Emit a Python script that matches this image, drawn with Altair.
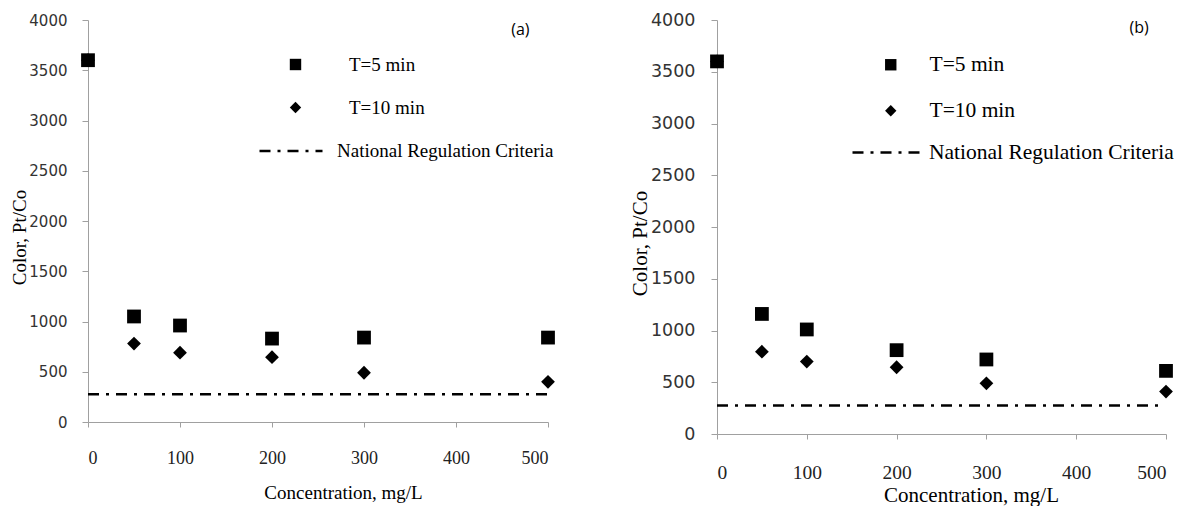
import altair as alt
import pandas as pd

# ---- data ----
conc = [0, 50, 100, 200, 300, 500]
a_t5 = [3600, 1050, 960, 830, 840, 840]
a_t10 = [3600, 780, 690, 645, 490, 400]
b_t5 = [3600, 1160, 1010, 810, 720, 610]
b_t10 = [3600, 795, 700, 645, 490, 410]
reg_value = [275, 275]
reg_x_a = [0, 500]
reg_x_b = [0, 492]
series = ["T=5 min", "T=10 min"]
reg_name = "National Regulation Criteria"
y_ticks = [0, 500, 1000, 1500, 2000, 2500, 3000, 3500, 4000]
x_ticks = [0, 100, 200, 300, 400, 500]
panel_labels = ["(a)", "(b)"]
panel_label_conc = [470, 470]
panel_label_color = [3905, 3918]

SERIF = "Liberation Serif"
SANS = "DejaVu Sans"
AXIS_GRAY = "#a0a0a0"


def panel(t5, t10, reg_x, idx, s):
    pts = pd.DataFrame({
        "conc": conc + conc,
        "color": t10 + t5,
        "series": ["T=10 min"] * len(conc) + ["T=5 min"] * len(conc),
    })
    reg = pd.DataFrame({"conc": reg_x, "color": reg_value,
                        "series": [reg_name] * len(reg_x)})
    lab = pd.DataFrame({"conc": [panel_label_conc[idx]],
                        "color": [panel_label_color[idx]],
                        "txt": [panel_labels[idx]]})

    x = alt.X("conc:Q",
              scale=alt.Scale(domain=[0, 500], nice=False, zero=False),
              axis=alt.Axis(values=x_ticks, grid=False, format="d",
                            title="Concentration, mg/L",
                            titleFont=SERIF, titleFontSize=s["tfs"],
                            titleFontWeight="normal", titleColor="black",
                            titleX=s["xtx"], titleY=s["xty"],
                            titleAlign="center", titleBaseline="middle",
                            labelFont=SERIF, labelFontSize=s["xlfs"],
                            labelColor="#222", labelPadding=s["xlp"],
                            tickSize=5, tickColor=AXIS_GRAY,
                            domainColor=AXIS_GRAY))
    y = alt.Y("color:Q",
              scale=alt.Scale(domain=[0, 4000], nice=False),
              axis=alt.Axis(values=y_ticks, grid=False, format="d",
                            title="Color, Pt/Co",
                            titleFont=SERIF, titleFontSize=s["tfs"],
                            titleFontWeight="normal", titleColor="black",
                            titleX=s["ytx"], titleY=s["yty"],
                            titleAlign="center", titleBaseline="middle",
                            titleAngle=270,
                            labelFont=SANS, labelFontSize=s["ylfs"],
                            labelColor="#333", labelPadding=s["ylp"],
                            tickSize=6, tickColor=AXIS_GRAY,
                            domainColor=AXIS_GRAY))

    line = alt.Chart(reg).mark_line(color="black", strokeWidth=2.5).encode(
        x=x, y=y,
        strokeDash=alt.StrokeDash(
            "series:N",
            scale=alt.Scale(domain=[reg_name], range=[[11, 7, 3, 7]]),
            legend=alt.Legend(title=None, orient="none",
                              legendX=s["llx"], legendY=s["lly"],
                              symbolType="stroke",
                              symbolSize=s["llen"] ** 2,
                              symbolStrokeWidth=2.5,
                              symbolStrokeColor="black",
                              labelFont=SERIF, labelFontSize=s["lfs"],
                              labelColor="black", labelOffset=s["llo"],
                              labelLimit=400, padding=0)),
    )

    points = alt.Chart(pts).mark_point(
        filled=True, opacity=1, color="black", size=190, strokeWidth=0
    ).encode(
        x=x, y=y,
        shape=alt.Shape(
            "series:N",
            scale=alt.Scale(domain=series, range=["square", "diamond"]),
            legend=alt.Legend(title=None, orient="none",
                              legendX=s["slx"], legendY=s["sly"],
                              symbolSize=130, symbolFillColor="black",
                              symbolStrokeWidth=0,
                              labelFont=SERIF, labelFontSize=s["lfs"],
                              labelColor="black", labelOffset=s["slo"],
                              rowPadding=s["rp"], padding=0)),
    )

    text = alt.Chart(lab).mark_text(
        font="Open Sans", fontSize=16, color="black",
        align="center", baseline="middle"
    ).encode(x=x, y=y, text="txt:N")

    return alt.layer(line, points, text).properties(width=s["w"], height=s["h"])


sa = dict(w=460, h=402, tfs=19, xlfs=18, ylfs=15, xlp=22, ylp=15,
          xtx=255, xty=70, ytx=-69, yty=217,
          lfs=19, slx=198, sly=35, slo=44, rp=23,
          llx=170, lly=98, llen=63, llo=13)
sb = dict(w=449, h=414, tfs=21, xlfs=19.5, ylfs=17.5, xlp=24, ylp=16,
          xtx=254, xty=61, ytx=-77, yty=223,
          lfs=21.5, slx=163, sly=34, slo=28, rp=23,
          llx=134, lly=97, llen=68, llo=7)

pa = panel(a_t5, a_t10, reg_x_a, 0, sa)
pb = panel(b_t5, b_t10, reg_x_b, 1, sb)

chart = alt.hconcat(pa, pb, spacing=74).resolve_scale(
    x="independent", y="independent",
    shape="independent", strokeDash="independent",
).resolve_legend(
    shape="independent", strokeDash="independent",
).configure_view(stroke=None).properties(
    background="white",
    padding={"left": 2, "top": 3, "right": 5, "bottom": 2},
)

chart.save("out.html", embed_options={"renderer": "svg", "actions": False})
